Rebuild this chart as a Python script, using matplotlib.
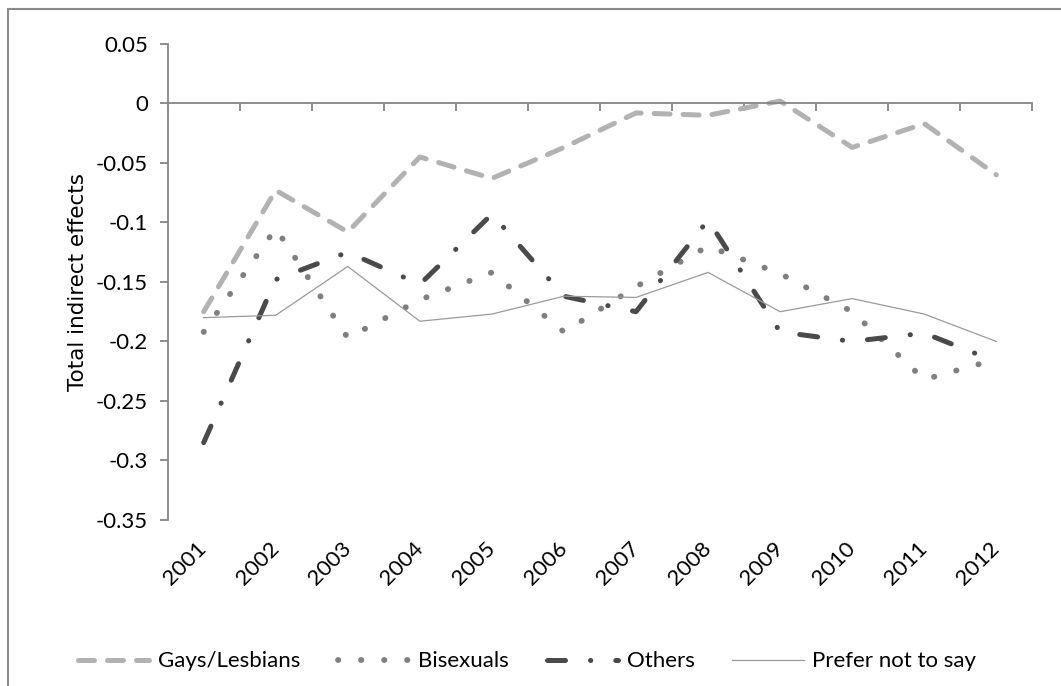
import matplotlib
matplotlib.use("Agg")
import matplotlib.pyplot as plt
import matplotlib.patches as mpatches
import numpy as np

years = ["2001", "2002", "2003", "2004", "2005", "2006",
         "2007", "2008", "2009", "2010", "2011", "2012"]
gays_lesbians = [-0.175, -0.073, -0.108, -0.045, -0.063, -0.037,
                 -0.008, -0.010, 0.002, -0.037, -0.017, -0.060]
bisexuals = [-0.192, -0.105, -0.197, -0.165, -0.142, -0.192,
             -0.154, -0.120, -0.143, -0.175, -0.232, -0.215]
others = [-0.285, -0.148, -0.125, -0.152, -0.093, -0.162,
          -0.175, -0.098, -0.192, -0.200, -0.193, -0.217]
prefer_not = [-0.180, -0.178, -0.137, -0.183, -0.177, -0.162,
              -0.163, -0.142, -0.175, -0.164, -0.177, -0.200]
y_ticks = [0.05, 0, -0.05, -0.1, -0.15, -0.2, -0.25, -0.3, -0.35]
y_labels = ["0.05", "0", "-0.05", "-0.1", "-0.15", "-0.2", "-0.25", "-0.3", "-0.35"]

plt.rcParams["font.family"] = ["Lato", "DejaVu Sans"]
axis_grey = "#868686"

fig = plt.figure(figsize=(10.61, 6.86), dpi=100)
ax = fig.add_axes([0.158, 0.242, 0.815, 0.694])
x = np.arange(len(years))

ax.plot(x, gays_lesbians, color="#b2b2b2", lw=3.6, dashes=(3.2, 2.6),
        dash_capstyle="round", solid_joinstyle="round", label="Gays/Lesbians")
ax.plot(x, bisexuals, color="#7f7f7f", lw=4.2, dashes=(0.05, 3.9),
        dash_capstyle="round", label="Bisexuals")
ax.plot(x, others, color="#4a4a4a", lw=3.6, dashes=(3.6, 5, 0.05, 5),
        dash_capstyle="round", label="Others")
ax.plot(x, prefer_not, color="#9a9a9a", lw=0.9, label="Prefer not to say")

ax.set_xlim(-0.5, len(years) - 0.5)
ax.set_ylim(-0.35, 0.05)
ax.set_yticks(y_ticks)
ax.set_yticklabels(y_labels, fontsize=16)
ax.tick_params(axis="y", length=6, width=1.3, color=axis_grey, pad=8)
ax.set_ylabel("Total indirect effects", fontsize=15.5, family="DejaVu Sans", labelpad=6)

for side in ["top", "right"]:
    ax.spines[side].set_visible(False)
ax.spines["left"].set_color(axis_grey)
ax.spines["left"].set_linewidth(1.3)
# horizontal axis sits on zero, with tick marks between categories
ax.spines["bottom"].set_position(("data", 0))
ax.spines["bottom"].set_color(axis_grey)
ax.spines["bottom"].set_linewidth(1.3)
ax.set_xticks(np.arange(len(years) + 1) - 0.5)
ax.tick_params(axis="x", length=6, width=1.3, color=axis_grey, labelbottom=False)

lab = ax.secondary_xaxis("bottom")
lab.set_xticks(x)
lab.set_xticklabels(years, fontsize=16, rotation=45, ha="right", va="center",
                    rotation_mode="anchor")
lab.tick_params(length=0, pad=18)
lab.spines["bottom"].set_visible(False)

leg = fig.legend(loc="center", bbox_to_anchor=(0.497, 0.036), ncol=4, frameon=False,
                 fontsize=16, handlelength=3.2, columnspacing=1.7, handletextpad=0.4)

fig.patches.append(mpatches.Rectangle((0.0075, -0.2), 1.2, 0.2 + 0.987, fill=False,
                                      edgecolor="#8a8a8a", lw=1.5,
                                      transform=fig.transFigure, figure=fig))

fig.savefig("out.png", dpi=100)
